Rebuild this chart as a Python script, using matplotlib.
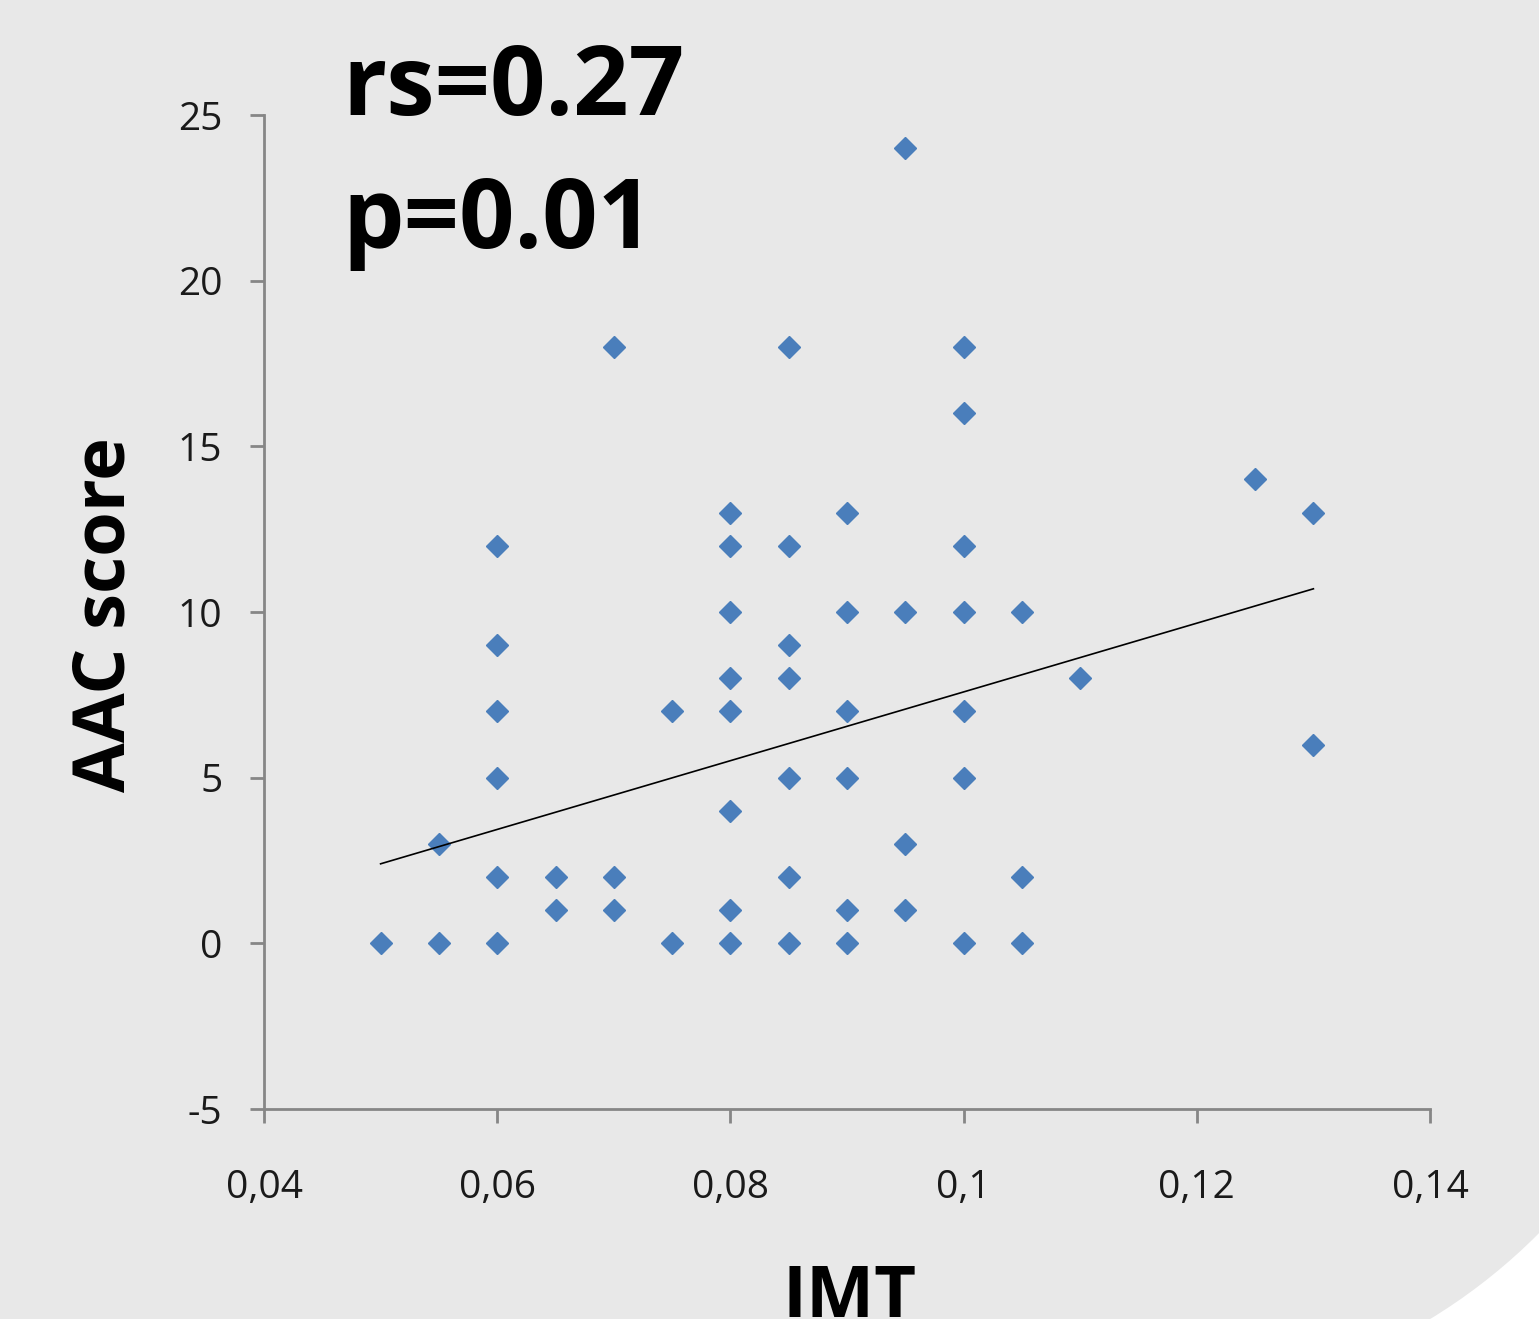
import numpy as np
import matplotlib.pyplot as plt
from matplotlib.patches import Polygon

# IMT values and the AAC scores read at each of them
imt = [0.05,
	0.055, 0.055,
	0.06, 0.06, 0.06, 0.06, 0.06, 0.06,
	0.065, 0.065,
	0.07, 0.07, 0.07,
	0.075, 0.075,
	0.08, 0.08, 0.08, 0.08, 0.08, 0.08, 0.08, 0.08,
	0.085, 0.085, 0.085, 0.085, 0.085, 0.085, 0.085,
	0.09, 0.09, 0.09, 0.09, 0.09, 0.09,
	0.095, 0.095, 0.095, 0.095,
	0.1, 0.1, 0.1, 0.1, 0.1, 0.1, 0.1,
	0.105, 0.105, 0.105,
	0.11,
	0.125,
	0.13, 0.13]
aac = [0,
	0, 3,
	12, 9, 7, 5, 2, 0,
	2, 1,
	18, 2, 1,
	7, 0,
	13, 12, 10, 8, 7, 4, 1, 0,
	18, 12, 9, 8, 5, 2, 0,
	13, 10, 7, 5, 1, 0,
	24, 10, 3, 1,
	18, 16, 12, 10, 7, 5, 0,
	10, 2, 0,
	8,
	14,
	13, 6]

# trend line ends (overlapping points are hidden)
trend_x = [0.05, 0.13]
trend_y = [2.4, 10.7]

xticks = [0.04, 0.06, 0.08, 0.10, 0.12, 0.14]
xticklabels = ['0,04', '0,06', '0,08', '0,1', '0,12', '0,14']
yticks = [-5, 0, 5, 10, 15, 20, 25]

bg = '#e8e8e8'
axcol = '#868686'
W, H = 1539, 1319

plt.rcParams['font.family'] = ['Open Sans', 'DejaVu Sans']
plt.rcParams['axes.unicode_minus'] = False
fig = plt.figure(figsize=(W/100, H/100), dpi=100, facecolor=bg)

# white rounded corner at the bottom right
cx, cy, R = 1131, H - 828, 575
ang = np.linspace(0, -np.pi/2, 60)
pts = [(cx + R*np.cos(a), cy + R*np.sin(a)) for a in ang]
pts.append((cx + R, cy - R))
pts = [(px/W, py/H) for px, py in pts]
fig.patches.append(Polygon(pts, closed=True, transform=fig.transFigure,
	facecolor='white', edgecolor='none', zorder=0))

ax = fig.add_axes([264/W, 1 - 1109/H, (1430-264)/W, (1109-115)/H])
ax.set_facecolor('none')

ax.plot(imt, aac, ls='none', marker='D', ms=11, color='#4a7ebb', mec='#4a7ebb', zorder=3)
ax.plot(trend_x, trend_y, color='black', lw=1.2, zorder=4)

ax.set_xlim(0.04, 0.14)
ax.set_ylim(-5, 25)
ax.set_xticks(xticks)
ax.set_xticklabels(xticklabels)
ax.set_yticks(yticks)
for s in ['top', 'right']:
	ax.spines[s].set_visible(False)
for s in ['left', 'bottom']:
	ax.spines[s].set_color(axcol)
	ax.spines[s].set_linewidth(2)
ax.tick_params(axis='both', colors=axcol, width=2, length=10, labelcolor='#1a1a1a', labelsize=28)
ax.tick_params(axis='y', pad=20)
ax.tick_params(axis='x', pad=33)

fig.text(342/W, 1 - 115/H, 'rs=0.27', fontsize=70, fontweight='bold', ha='left', va='baseline')
fig.text(342/W, 1 - 248/H, 'p=0.01', fontsize=70, fontweight='bold', ha='left', va='baseline')
fig.text(106/W, 1 - 615/H, 'AAC score', fontsize=52, fontweight='bold', rotation=90, ha='center', va='center')
fig.text(850/W, 1 - 1317/H, 'IMT', fontsize=52, fontweight='bold', ha='center', va='baseline')

fig.savefig('out.png', dpi=100, facecolor=bg)
